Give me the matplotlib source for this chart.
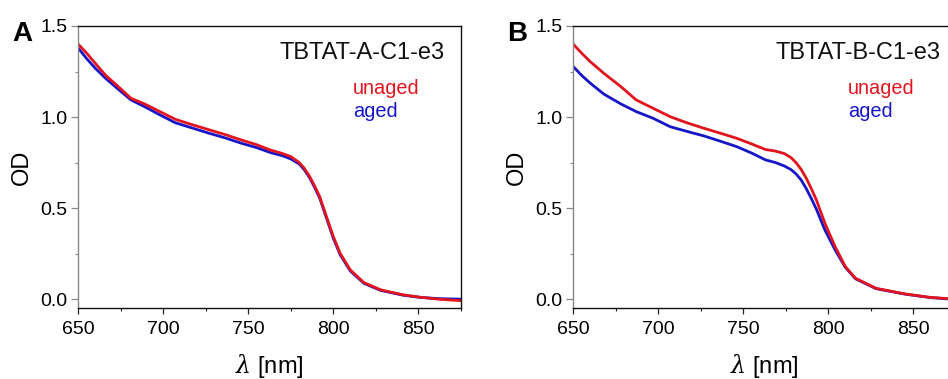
import matplotlib
matplotlib.use("Agg")
import matplotlib.pyplot as plt
from matplotlib.ticker import MultipleLocator, FormatStrFormatter

plt.rcParams["font.family"] = ["Liberation Sans", "DejaVu Sans"]
plt.rcParams["mathtext.fontset"] = "dejavuserif"

# Panel A: TBTAT-A-C1-e3
wl_a = [650, 655, 660, 666, 674, 681, 689, 698, 707, 717, 727, 737, 746, 755,
        763, 770, 775, 780, 783, 786, 789, 792, 796, 800, 804, 810, 818, 828,
        841, 851, 862, 875]
unaged_a = [1.40, 1.35, 1.295, 1.23, 1.163, 1.103, 1.072, 1.03, 0.988, 0.958,
            0.93, 0.902, 0.874, 0.848, 0.819, 0.800, 0.783, 0.750, 0.718, 0.675,
            0.622, 0.563, 0.453, 0.344, 0.252, 0.161, 0.091, 0.051, 0.024,
            0.011, 0.0, -0.008]
aged_a = [1.378, 1.32, 1.268, 1.213, 1.149, 1.094, 1.057, 1.012, 0.969, 0.94,
          0.911, 0.884, 0.856, 0.832, 0.805, 0.788, 0.770, 0.742, 0.710, 0.668,
          0.614, 0.555, 0.445, 0.335, 0.245, 0.155, 0.087, 0.048, 0.022, 0.01,
          0.003, 0.0]

# Panel B: TBTAT-B-C1-e3
wl_b = [650, 655, 660, 668, 678, 687, 697, 707, 717, 727, 737, 746, 755, 763,
        769, 774, 778, 781, 784, 787, 790, 793, 798, 804, 810, 816, 828, 845,
        860, 875]
unaged_b = [1.40, 1.35, 1.304, 1.240, 1.167, 1.094, 1.048, 1.002, 0.968, 0.938,
            0.910, 0.884, 0.852, 0.822, 0.813, 0.800, 0.778, 0.750, 0.713, 0.665,
            0.607, 0.545, 0.417, 0.289, 0.179, 0.115, 0.060, 0.029, 0.01, 0.0]
aged_b = [1.277, 1.228, 1.186, 1.126, 1.072, 1.030, 0.993, 0.947, 0.921, 0.896,
          0.866, 0.838, 0.802, 0.765, 0.750, 0.732, 0.712, 0.688, 0.655, 0.608,
          0.553, 0.494, 0.380, 0.271, 0.175, 0.112, 0.058, 0.028, 0.009, -0.002]

panels = [
    ("A", "TBTAT-A-C1-e3", wl_a, unaged_a, aged_a),
    ("B", "TBTAT-B-C1-e3", wl_b, unaged_b, aged_b),
]

RED = "#e3141e"
BLUE = "#1616c8"
W, H = 948, 379

fig = plt.figure(figsize=(W / 100, H / 100), dpi=100, facecolor="white")

lefts = [78.3, 573.3]
ax_w = 382.5
ax_top, ax_bot = 26.0, 308.3

for (letter, title, wl, unaged, aged), left in zip(panels, lefts):
    ax = fig.add_axes([left / W, (H - ax_bot) / H, ax_w / W, (ax_bot - ax_top) / H])
    ax.plot(wl, aged, color=BLUE, lw=2.0, solid_joinstyle="round")
    ax.plot(wl, unaged, color=RED, lw=2.0, solid_joinstyle="round")

    ax.set_xlim(650, 875)
    ax.set_ylim(-0.05, 1.5)
    ax.xaxis.set_major_locator(MultipleLocator(50))
    ax.xaxis.set_minor_locator(MultipleLocator(25))
    ax.yaxis.set_major_locator(MultipleLocator(0.5))
    ax.yaxis.set_minor_locator(MultipleLocator(0.25))
    ax.yaxis.set_major_formatter(FormatStrFormatter("%.1f"))

    ax.tick_params(axis="x", which="major", direction="out", length=4, width=0.9,
                   labelsize=14, pad=5, color="#222222")
    ax.tick_params(axis="x", which="minor", direction="out", length=2.2, width=0.8,
                   color="#222222")
    ax.tick_params(axis="y", which="major", direction="out", length=5, width=0.9,
                   labelsize=14, pad=3, color="#888888")
    ax.tick_params(axis="y", which="minor", direction="out", length=2.5, width=0.8,
                   color="#888888")

    for side in ("top", "right", "bottom"):
        ax.spines[side].set_color("#111111")
        ax.spines[side].set_linewidth(1.0)
    ax.spines["left"].set_color("#888888")
    ax.spines["left"].set_linewidth(1.0)

    ax.set_xlabel(r"$\lambda$ [nm]", fontsize=17, labelpad=10)
    ax.set_ylabel("OD", fontsize=17, labelpad=5)

    ax.text(0.959, 0.903, title, transform=ax.transAxes, ha="right", va="center",
            fontsize=17, color="#111111")
    ax.text(0.7174, 0.780, "unaged", transform=ax.transAxes, ha="left", va="center",
            fontsize=14.4, color=RED)
    ax.text(0.7174, 0.697, "aged", transform=ax.transAxes, ha="left", va="center",
            fontsize=14.4, color=BLUE)

    fig.text((left - 56) / W, (H - 34) / H, letter, ha="center", va="center",
             fontsize=20, fontweight="bold")

fig.savefig("out.png", dpi=100, facecolor="white")
